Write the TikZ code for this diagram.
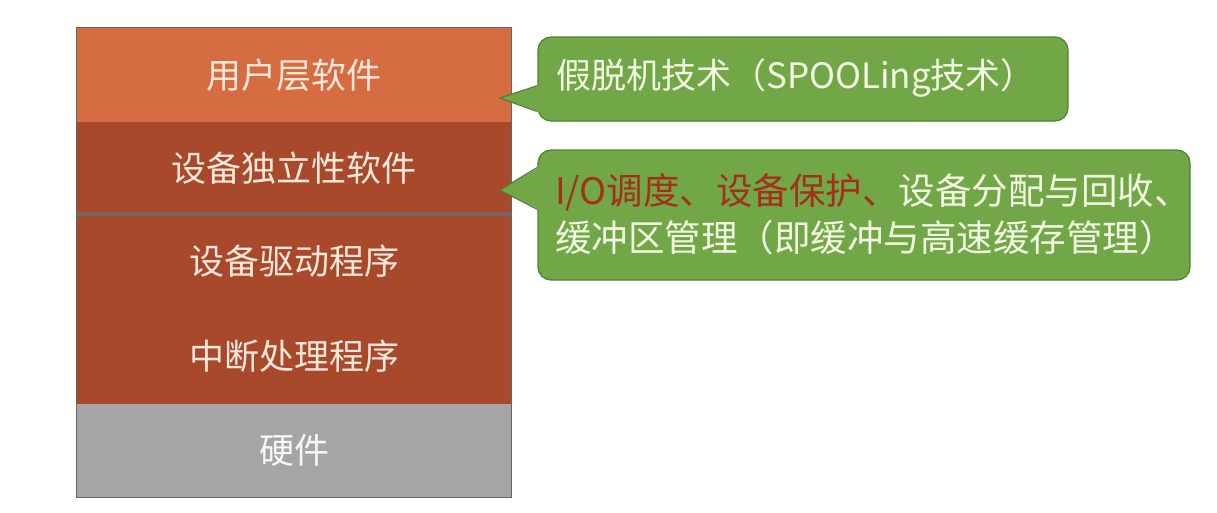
\documentclass[tikz,border=0pt]{standalone}
\usepackage{fontspec}
\setmainfont{Noto Sans CJK SC}
\usetikzlibrary{calc}
\definecolor{userc}{HTML}{D66C42}
\definecolor{darkc}{HTML}{A9492B}
\definecolor{hwc}{HTML}{A5A5A5}
\definecolor{edgec}{HTML}{666666}
\definecolor{sepc}{HTML}{756565}
\definecolor{layertxt}{HTML}{FCE8DA}
\definecolor{greenc}{HTML}{71A747}
\definecolor{greenedge}{HTML}{4F8032}
\definecolor{calltxt}{HTML}{F3F8E2}
\definecolor{redtxt}{HTML}{A3301A}
\begin{document}
\begin{tikzpicture}[x=1pt,y=-1pt,
  layer/.style={minimum width=434pt, inner sep=0pt, text=layertxt,
    font=\fontsize{35}{42}\selectfont},
  callbox/.style={fill=greenc, draw=greenedge, line width=1.2pt, rounded corners=13pt, inner sep=0pt},
  calltext/.style={anchor=west, align=left, inner sep=0pt, text=calltxt,
    font=\fontsize{35}{47}\selectfont},
  ptrfill/.style={fill=greenc},
  ptredge/.style={draw=greenedge, line width=1.2pt, line join=miter}]
\useasboundingbox (0,0) rectangle (1217,512);
\fill[white] (0,0) rectangle (1217,512);
% layers
\node[layer, fill=userc, minimum height=94pt] (user) at (294,75) {用户层软件};
\node[layer, fill=darkc, minimum height=92pt] (indep) at (294,168) {设备独立性软件};
\node[layer, fill=darkc, minimum height=95pt] (drv) at (294,261.5) {设备驱动程序};
\node[layer, fill=darkc, minimum height=95pt] (intr) at (294,356.5) {中断处理程序};
\node[layer, fill=hwc, minimum height=93pt, text=white!92!hwc] (hw) at (294,450.5) {硬件};
\draw[sepc, line width=3.5pt] (indep.south west) -- (indep.south east);
\draw[edgec, line width=1.3pt] (user.north west) rectangle (hw.south east);
% callouts
\node[callbox, minimum width=530pt, minimum height=84pt] (c1) at (803,79) {};
\node[callbox, minimum width=652pt, minimum height=130pt] (c2) at (864,215) {};
\coordinate (t1) at (500,98);
\coordinate (t2) at (500,190);
\fill[ptrfill] (t1) -- ($(c1.south west)+(2,-10)$) -- ($(c1.south west)+(2,-36)$) -- cycle;
\draw[ptredge] ($(c1.south west)+(0,-10)$) -- (t1) -- ($(c1.south west)+(0,-36)$);
\fill[ptrfill] (t2) -- ($(c2.north west)+(2,18)$) -- ($(c2.north west)+(2,60)$) -- cycle;
\draw[ptredge] ($(c2.north west)+(0,18)$) -- (t2) -- ($(c2.north west)+(0,60)$);
\node[calltext] (c1t) at (556,78) {假脱机技术（SPOOLing技术）};
\node[calltext, font=\fontsize{36.5}{47}\selectfont] (c2t) at (555,214) {\textcolor{redtxt}{I/O调度、设备保护、}设备分配与回收、\\缓冲区管理（即缓冲与高速缓存管理）};
\end{tikzpicture}
\end{document}
